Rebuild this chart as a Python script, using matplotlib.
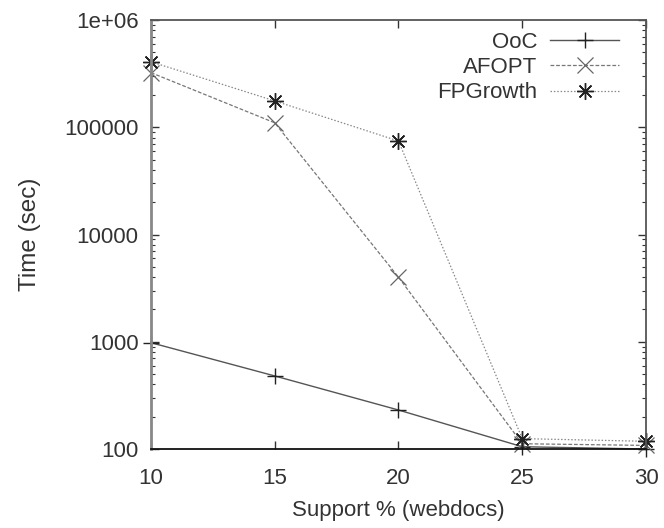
import numpy as np
import matplotlib.pyplot as plt
from matplotlib.ticker import LogLocator, NullFormatter

plt.rcParams['font.family'] = ['Liberation Sans', 'DejaVu Sans']

support = [10, 15, 20, 25, 30]
ooc = [980, 480, 231, 105, 100]
afopt = [323000, 110000, 4000, 112, 108]
fpgrowth = [408000, 176000, 74400, 125, 118]

yticks = [100, 1000, 10000, 100000, 1000000]
ytick_labels = ['100', '1000', '10000', '100000', '1e+06']


def main():
    fig = plt.figure(figsize=(6.64, 5.28), dpi=100)
    ax = fig.add_axes([0.2274, 0.1496, 0.7455, 0.8125])

    ax.plot(support, ooc, color='#555555', linestyle='-', linewidth=1.0,
            marker='+', markersize=11, markeredgewidth=1.0,
            markeredgecolor='#222222', label='OoC', clip_on=False)
    ax.plot(support, afopt, color='#777777', linestyle=(0, (3, 1.5)), linewidth=0.9,
            marker='x', markersize=11, markeredgewidth=0.9,
            markeredgecolor='#666666', label='AFOPT', clip_on=False)
    ax.plot(support, fpgrowth, color='#888888', linestyle=(0, (1.2, 1.5)), linewidth=0.9,
            marker=(8, 2, 0), markersize=12, markeredgewidth=1.0,
            markeredgecolor='#222222', label='FPGrowth', clip_on=False)

    ax.set_yscale('log')
    ax.set_xlim(10, 30)
    ax.set_ylim(100, 1e6)
    ax.set_xticks(support)
    ax.set_yticks(yticks)
    ax.set_yticklabels(ytick_labels)
    ax.yaxis.set_minor_locator(LogLocator(base=10, subs=np.arange(2, 10)))
    ax.yaxis.set_minor_formatter(NullFormatter())

    ax.tick_params(which='both', direction='in', top=True, right=True,
                   labelsize=16, colors='#333333')
    ax.tick_params(axis='x', which='major', pad=14)
    ax.tick_params(axis='y', which='major', pad=9)
    ax.tick_params(which='major', length=6, width=1.0)
    ax.tick_params(which='minor', length=3, width=0.8)

    for side in ['left', 'right', 'top', 'bottom']:
        ax.spines[side].set_color('#555555')
        ax.spines[side].set_linewidth(1.3)
    ax.spines['bottom'].set_color('#111111')
    ax.spines['left'].set_color('#888888')
    ax.spines['left'].set_linewidth(2.0)

    ax.set_xlabel('Support % (webdocs)', fontsize=16, color='#333333')
    ax.set_ylabel('Time (sec)', fontsize=17.5, color='#333333')
    ax.xaxis.set_label_coords(0.5, -0.12)
    ax.yaxis.set_label_coords(-0.222, 0.5)

    leg = ax.legend(loc='upper right', bbox_to_anchor=(0.964, 0.993),
                    frameon=False, markerfirst=False, borderaxespad=0,
                    fontsize=16, handlelength=3.1, handletextpad=0.6,
                    labelspacing=0.19)
    for t in leg.get_texts():
        t.set_color('#333333')

    fig.savefig('out.png', dpi=100)


main()
